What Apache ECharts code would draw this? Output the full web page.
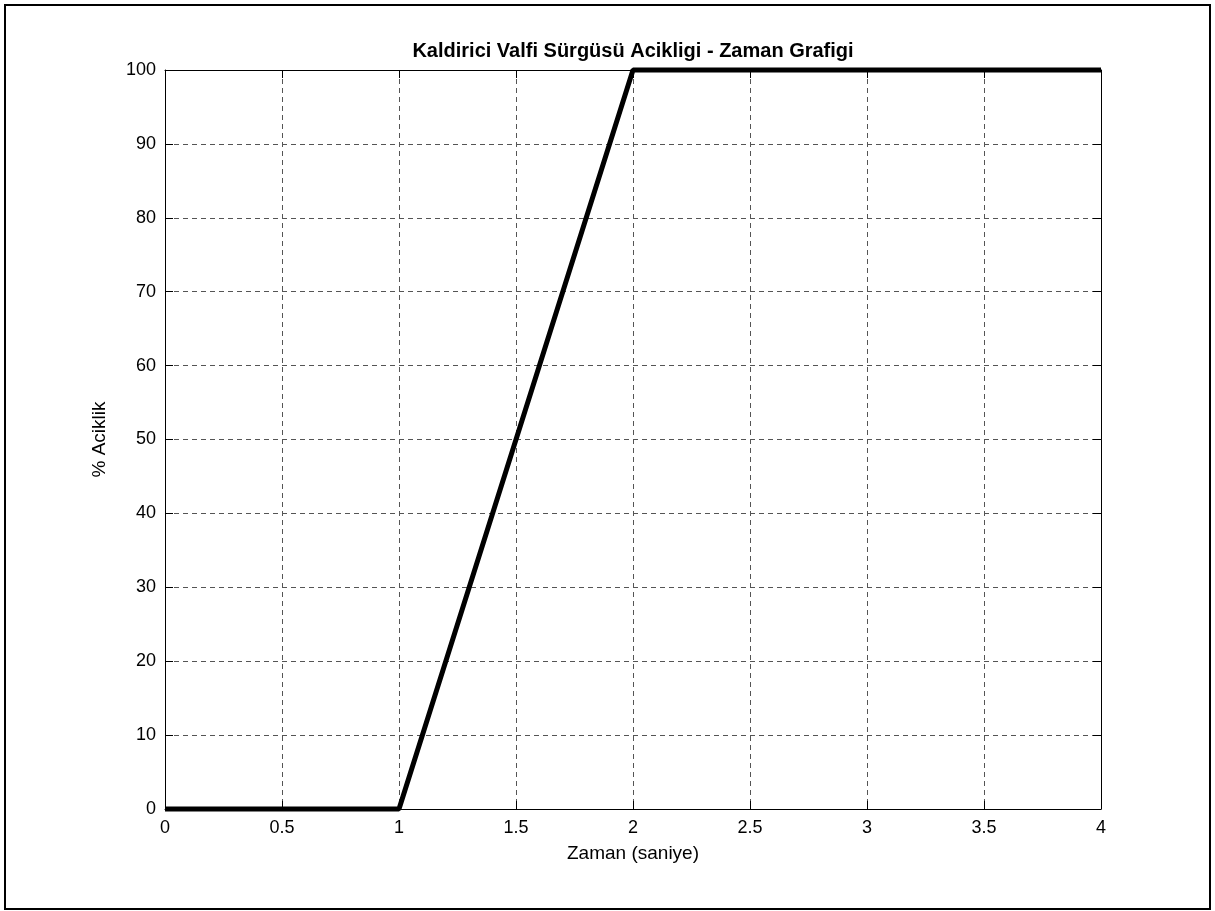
<!DOCTYPE html>
<html>
<head>
<meta charset="utf-8">
<script src="https://cdn.jsdelivr.net/npm/echarts@6/dist/echarts.min.js"></script>
<style>
html,body{margin:0;padding:0;background:#fff;}
#c{width:1215px;height:911px;}
</style>
</head>
<body>
<div id="c"></div>
<script>
const timeValues = [0, 1, 2, 4];
const openingValues = [0, 0, 100, 100];
const xTicks = [0, 0.5, 1, 1.5, 2, 2.5, 3, 3.5, 4];
const yTicks = [0, 10, 20, 30, 40, 50, 60, 70, 80, 90, 100];
const titleText = 'Kaldirici Valfi Sürgüsü Acikligi - Zaman Grafigi';
const xName = 'Zaman (saniye)';
const yName = '% Aciklik';

const font = 'Liberation Sans, Arial, Helvetica, sans-serif';
const chart = echarts.init(document.getElementById('c'), null, {renderer: 'canvas'});

const gridLine = {show: true, lineStyle: {color: '#555', width: 1, type: [5, 4]}};
const axisLine = {show: true, onZero: false, lineStyle: {color: '#000', width: 1}};
const tick = {show: true, inside: true, length: 8, lineStyle: {color: '#000', width: 1}};
const label = {color: '#000', fontSize: 18, fontFamily: font};

chart.setOption({
  animation: false,
  backgroundColor: '#fff',
  title: {
    text: titleText,
    left: 628, top: 36, textAlign: 'center',
    textStyle: {fontSize: 20, fontWeight: 'bold', color: '#000', fontFamily: font}
  },
  graphic: [{
    type: 'rect', silent: true,
    shape: {x: 5, y: 5, width: 1205, height: 904},
    style: {fill: 'none', stroke: '#000', lineWidth: 2}
  }],
  grid: {left: 165, right: 114, top: 70, bottom: 102, containLabel: false},
  xAxis: [{
    type: 'value', min: 0, max: 4, interval: 0.5,
    name: xName, nameLocation: 'middle', nameGap: 35,
    nameTextStyle: {color: '#000', fontSize: 19, fontFamily: font},
    axisLine: axisLine, axisTick: tick,
    axisLabel: Object.assign({margin: 10, formatter: v => String(v)}, label),
    splitLine: gridLine
  }, {
    type: 'value', min: 0, max: 4, interval: 0.5, position: 'top',
    axisLine: axisLine, axisTick: tick, axisLabel: {show: false}, splitLine: {show: false}
  }],
  yAxis: [{
    type: 'value', min: 0, max: 100, interval: 10,
    name: yName, nameLocation: 'middle', nameGap: 56, nameRotate: 90,
    nameTextStyle: {color: '#000', fontSize: 19, fontFamily: font},
    axisLine: axisLine, axisTick: tick,
    axisLabel: Object.assign({margin: 9}, label),
    splitLine: gridLine
  }, {
    type: 'value', min: 0, max: 100, interval: 10, position: 'right',
    axisLine: axisLine, axisTick: tick, axisLabel: {show: false}, splitLine: {show: false}
  }],
  series: [{
    type: 'line',
    data: timeValues.map((t, i) => [t, openingValues[i]]),
    showSymbol: false, symbol: 'none', clip: false,
    lineStyle: {color: '#000', width: 5},
    z: 5
  }]
});
</script>
</body>
</html>
